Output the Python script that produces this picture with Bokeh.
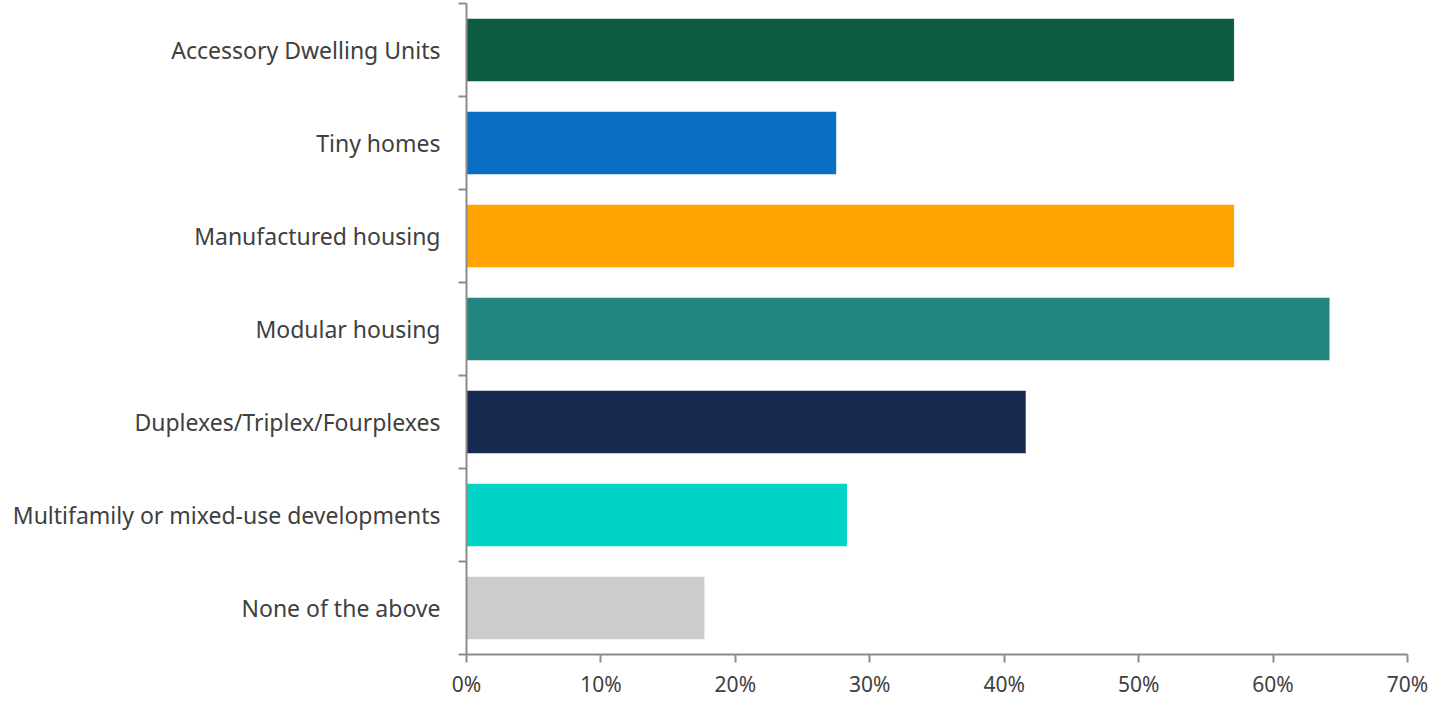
from bokeh.plotting import figure
from bokeh.models import ColumnDataSource, FixedTicker, NumeralTickFormatter, Range1d
from bokeh.embed import file_html
from bokeh.resources import INLINE

categories = ["Accessory Dwelling Units", "Tiny homes", "Manufactured housing",
              "Modular housing", "Duplexes/Triplex/Fourplexes",
              "Multifamily or mixed-use developments", "None of the above"]
values = [0.571, 0.275, 0.571, 0.642, 0.416, 0.283, 0.177]
colors = ["#0E5C44", "#0A6FC2", "#FFA300", "#21867F", "#18294F", "#00D4C4", "#CCCCCC"]
x_ticks = [0, 0.1, 0.2, 0.3, 0.4, 0.5, 0.6, 0.7]

n = len(categories)
ypos = [n - i - 0.5 for i in range(n)]
src = ColumnDataSource(dict(y=ypos, v=values, c=colors, cat=categories))

p = figure(width=1433, height=700, output_backend="svg", toolbar_location=None,
           x_range=Range1d(0, 0.7), y_range=Range1d(0, n),
           min_border_left=466, min_border_right=26, min_border_top=3, min_border_bottom=45)
p.hbar(y="y", left=0, right="v", height=0.67, fill_color="c", line_color=None, source=src)

p.grid.visible = False
p.outline_line_color = None
p.background_fill_color = "white"

axis_color = "#8C8C8C"
text_color = "#404040"
font = "Noto Sans"

p.xaxis.ticker = FixedTicker(ticks=x_ticks)
p.xaxis.formatter = NumeralTickFormatter(format="0%")
p.xaxis.axis_line_color = axis_color
p.xaxis.axis_line_width = 2
p.xaxis.major_tick_line_color = axis_color
p.xaxis.major_tick_line_width = 2
p.xaxis.major_tick_out = 8
p.xaxis.major_tick_in = 0
p.xaxis.minor_tick_line_color = None
p.xaxis.major_label_text_font = font
p.xaxis.major_label_text_font_size = "21px"
p.xaxis.major_label_text_color = text_color
p.xaxis.major_label_standoff = 7

p.yaxis.ticker = FixedTicker(ticks=ypos, minor_ticks=list(range(n + 1)))
p.yaxis.major_label_overrides = {y: c for y, c in zip(ypos, categories)}
p.yaxis.axis_line_color = axis_color
p.yaxis.axis_line_width = 2
p.yaxis.major_tick_line_color = None
p.yaxis.major_tick_out = 0
p.yaxis.major_tick_in = 0
p.yaxis.minor_tick_line_color = axis_color
p.yaxis.minor_tick_line_width = 2
p.yaxis.minor_tick_out = 8
p.yaxis.minor_tick_in = 0
p.yaxis.major_label_text_font = font
p.yaxis.major_label_text_font_size = "23px"
p.yaxis.major_label_text_color = text_color
p.yaxis.major_label_standoff = 18

open("out.html", "w").write(file_html(p, INLINE))
